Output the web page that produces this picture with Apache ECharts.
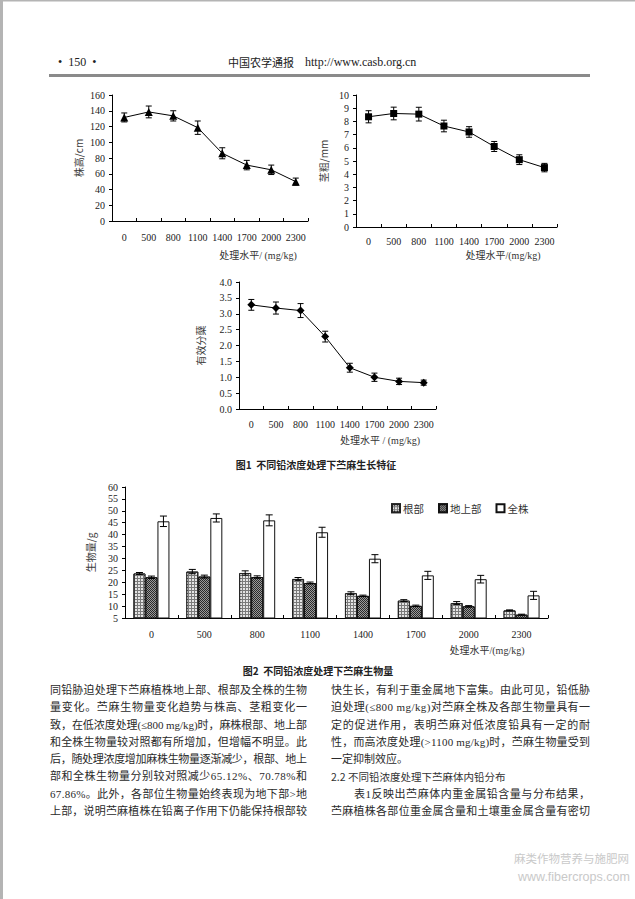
<!DOCTYPE html>
<html><head><meta charset="utf-8">
<script src="https://cdn.jsdelivr.net/npm/echarts@6/dist/echarts.min.js"></script>
<style>
html,body{margin:0;padding:0;background:#fff;}
#page{position:relative;width:635px;height:899px;overflow:hidden;background:#fff;}
#chart{position:absolute;left:0;top:0;width:635px;height:899px;}
.ln{position:absolute;display:inline-block;white-space:nowrap;font-family:"Liberation Serif","Noto Sans CJK SC",serif;font-size:11px;color:#2a2a2a;line-height:17px;height:17px;}
.hd{font-family:"Noto Sans CJK SC",sans-serif;font-size:10.5px;color:#333;}
.wm{position:absolute;white-space:nowrap;color:#c9c9c9;}
</style>
</head><body>
<div id="page">
<div id="chart"></div>
<div id="text"></div>
<div class="wm" style="left:514px;top:850px;font-family:'Noto Sans CJK SC';font-size:11.5px;line-height:16px;">麻类作物营养与施肥网</div>
<div class="wm" style="left:518px;top:869px;font-family:'Liberation Sans';font-size:12.5px;line-height:16px;">www.fibercrops.com</div>
</div>
<script>
// ---------- data ----------
const doses = ['0','500','800','1100','1400','1700','2000','2300'];
const plantHeight = [131.5,138.5,133.5,118.5,86,71,65,50];
const plantHeightErr = [5.7,7.5,6.5,8.5,7,6,6,4.5];
const stemDiam = [8.35,8.6,8.55,7.65,7.2,6.1,5.1,4.5];
const stemDiamErr = [0.46,0.48,0.52,0.44,0.4,0.38,0.37,0.32];
const tillers = [3.28,3.18,3.1,2.28,1.3,1.0,0.87,0.83];
const tillersErr = [0.17,0.19,0.22,0.17,0.14,0.13,0.1,0.08];
const rootMass = [23.7,24.5,23.9,21.4,15.4,12.3,11.3,8.2];
const rootErr = [0.4,0.9,0.9,0.6,0.6,0.4,0.6,0.2];
const shootMass = [22.1,22.4,22.2,19.7,14.3,10.1,9.9,6.4];
const shootErr = [0.5,0.6,0.5,0.4,0.3,0.3,0.3,0.2];
const wholeMass = [45.6,47.0,46.0,41.0,29.9,22.9,21.3,14.5];
const wholeErr = [2.2,1.7,2.3,2.1,1.7,1.7,1.6,1.7];
const legendNames = ['根部','地上部','全株'];

const leftLines = [
 '同铅胁迫处理下苎麻植株地上部、根部及全株的生物',
 '量变化。苎麻生物量变化趋势与株高、茎粗变化一',
 '致，在低浓度处理(≤800 mg/kg)时，麻株根部、地上部',
 '和全株生物量较对照都有所增加，但增幅不明显。此',
 '后，随处理浓度增加麻株生物量逐渐减少，根部、地上',
 '部和全株生物量分别较对照减少65.12%、70.78%和',
 '67.86%。此外，各部位生物量始终表现为地下部>地',
 '上部，说明苎麻植株在铅离子作用下仍能保持根部较'
];
const rightLines = [
 '快生长，有利于重金属地下富集。由此可见，铅低胁',
 '迫处理(≤800 mg/kg)对苎麻全株及各部生物量具有一',
 '定的促进作用，表明苎麻对低浓度铅具有一定的耐',
 '性，而高浓度处理(>1100 mg/kg)时，苎麻生物量受到',
 '一定抑制效应。',
 '2.2  不同铅浓度处理下苎麻体内铅分布',
 '表1反映出苎麻体内重金属铅含量与分布结果，',
 '苎麻植株各部位重金属含量和土壤重金属含量有密切'
];

// ---------- body text ----------
const tc = document.getElementById('text');
function addLine(txt, x, y, w, justify, cls) {
  const d = document.createElement('div');
  d.className = 'ln' + (cls ? ' ' + cls : '');
  d.textContent = txt;
  d.style.left = x + 'px';
  d.style.top = (y - 8.5) + 'px';
  tc.appendChild(d);
  if (justify) {
    const n = [...txt].length;
    const cw = d.getBoundingClientRect().width;
    d.style.letterSpacing = ((w - cw) / (n - 1)) + 'px';
  }
}
const lineY = k => 690.5 + 17.25 * k;
leftLines.forEach((t, k) => addLine(t, 50, lineY(k), 257, true));
rightLines.forEach((t, k) => {
  if (k === 4) addLine(t, 331, lineY(k), 0, false);
  else if (k === 5) addLine(t, 331, lineY(k), 0, false, 'hd');
  else if (k === 6) addLine(t, 354, lineY(k), 236, true);
  else addLine(t, 331, lineY(k), 259, true);
});

// ---------- chart ----------
const chart = echarts.init(document.getElementById('chart'), null, {renderer: 'svg', width: 635, height: 899});
const SERIF = 'Liberation Serif';
const CJK = 'Noto Sans CJK SC';

function xAx(gi, margin) {
  return {type: 'category', gridIndex: gi, data: doses, boundaryGap: true,
    axisLine: {lineStyle: {color: '#000', width: 1}},
    axisTick: {show: true, inside: true, length: 3, alignWithLabel: false, lineStyle: {color: '#000'}},
    axisLabel: {interval: 0, margin: margin, fontFamily: SERIF, fontSize: 10, color: '#222'},
    splitLine: {show: false}};
}
function yAx(gi, min, max, interval, name, gap, dec) {
  return {type: 'value', gridIndex: gi, min: min, max: max, interval: interval,
    name: name, nameLocation: 'middle', nameGap: gap, nameRotate: 90,
    nameTextStyle: {fontFamily: CJK, fontSize: 10, color: '#3a3a3a'},
    axisLine: {show: true, lineStyle: {color: '#000', width: 1}},
    axisTick: {show: true, length: 3, lineStyle: {color: '#000'}},
    axisLabel: {fontFamily: SERIF, fontSize: 10, color: '#222', margin: 7,
      formatter: v => dec ? v.toFixed(dec) : String(v)},
    splitLine: {show: false}};
}
function errSeries(gi, vals, errs, offset, cap, z) {
  return {type: 'custom', xAxisIndex: gi, yAxisIndex: gi, z: z, silent: true,
    encode: {x: 0, y: [1, 2]},
    data: vals.map((v, i) => [i, v - errs[i], v + errs[i]]),
    renderItem: function (params, api) {
      const i = api.value(0);
      const lo = api.coord([i, api.value(1)]);
      const hi = api.coord([i, api.value(2)]);
      const x = lo[0] + offset;
      const st = {stroke: '#000', lineWidth: 1};
      return {type: 'group', children: [
        {type: 'line', shape: {x1: x, y1: lo[1], x2: x, y2: hi[1]}, style: st},
        {type: 'line', shape: {x1: x - cap, y1: lo[1], x2: x + cap, y2: lo[1]}, style: st},
        {type: 'line', shape: {x1: x - cap, y1: hi[1], x2: x + cap, y2: hi[1]}, style: st}
      ]};
    }};
}
function lineSeries(gi, vals, symbol, size) {
  return {type: 'line', xAxisIndex: gi, yAxisIndex: gi, data: vals, symbol: symbol, symbolSize: size,
    z: 5, lineStyle: {color: '#000', width: 1}, itemStyle: {color: '#000'}, silent: true, animation: false};
}
function txt(text, x, y, font, size, weight, align, color) {
  return {type: 'text', x: x, y: y, silent: true,
    style: {text: text, fontFamily: font, fontSize: size, fontWeight: weight || 'normal',
      fill: color || '#333', align: align || 'center', verticalAlign: 'middle'}};
}

const option = {
  animation: false,
  backgroundColor: '#fff',
  grid: [
    {left: 112, top: 95, width: 196, height: 126},
    {left: 356, top: 95, width: 201, height: 132},
    {left: 239, top: 282, width: 197, height: 127},
    {left: 125, top: 487, width: 423, height: 131}
  ],
  xAxis: [xAx(0, 11), xAx(1, 9), xAx(2, 10), xAx(3, 11)],
  yAxis: [
    yAx(0, 0, 160, 20, '株高/cm', 29, 0),
    yAx(1, 0, 10, 1, '茎粗/mm', 28, 0),
    yAx(2, 0, 4, 0.5, '有效分蘖', 34, 1),
    yAx(3, 5, 60, 5, '生物量/g', 30, 0)
  ],
  legend: {data: legendNames, left: 386, top: 498, itemWidth: 8, itemHeight: 8, itemGap: 14,
    icon: 'rect', textStyle: {fontFamily: CJK, fontSize: 10.5, color: '#333', padding: [0, 0, 0, -2]}},
  series: [
    errSeries(0, plantHeight, plantHeightErr, 0, 3, 3),
    lineSeries(0, plantHeight, 'triangle', 8),
    errSeries(1, stemDiam, stemDiamErr, 0, 3, 3),
    lineSeries(1, stemDiam, 'rect', 7),
    errSeries(2, tillers, tillersErr, 0, 3, 3),
    lineSeries(2, tillers, 'diamond', 8),
    {name: '根部', type: 'bar', xAxisIndex: 3, yAxisIndex: 3, data: rootMass, barWidth: 12, barGap: '0%',
      itemStyle: {color: '#7a7a7a', borderColor: '#222', borderWidth: 1,
        decal: {symbol: 'rect', symbolSize: 1, color: '#e4e4e4', dashArrayX: [2, 1], dashArrayY: [2, 1], rotation: 0}}},
    {name: '地上部', type: 'bar', xAxisIndex: 3, yAxisIndex: 3, data: shootMass, barWidth: 12, barGap: '0%',
      itemStyle: {color: '#2a2a2a', borderColor: '#111', borderWidth: 1,
        decal: {symbol: 'rect', symbolSize: 1, color: '#9a9a9a', dashArrayX: [[1, 1], [0, 1, 1, 0]], dashArrayY: [1, 0], rotation: 0}}},
    {name: '全株', type: 'bar', xAxisIndex: 3, yAxisIndex: 3, data: wholeMass, barWidth: 12, barGap: '0%',
      itemStyle: {color: '#fff', borderColor: '#111', borderWidth: 1}},
    errSeries(3, rootMass, rootErr, -12, 3.5, 10),
    errSeries(3, shootMass, shootErr, 0, 3.5, 10),
    errSeries(3, wholeMass, wholeErr, 12, 3.5, 10)
  ],
  graphic: [
    {type: 'rect', shape: {x: 0, y: 0, width: 3, height: 899}, style: {fill: '#b4b4b4'}, silent: true},
    {type: 'rect', shape: {x: 0, y: 0, width: 635, height: 1.5}, style: {fill: '#b4b4b4'}, silent: true},
    {type: 'rect', shape: {x: 49, y: 74, width: 541, height: 3}, style: {fill: '#8a8a8a'}, silent: true},
    txt('•  150  •', 58, 62, SERIF, 12, 'normal', 'left', '#222'),
    txt('中国农学通报', 228, 62, CJK, 11, 'normal', 'left', '#222'),
    txt('http://www.casb.org.cn', 305, 62, SERIF, 12, 'normal', 'left', '#222'),
    txt('处理水平/ (mg/kg)', 258, 255, SERIF + ',' + CJK, 10, 'normal', 'center', '#333'),
    txt('处理水平/(mg/kg)', 503, 255, SERIF + ',' + CJK, 10, 'normal', 'center', '#333'),
    txt('处理水平 / (mg/kg)', 380, 440, SERIF + ',' + CJK, 10, 'normal', 'center', '#333'),
    txt('处理水平/(mg/kg)', 487, 650, SERIF + ',' + CJK, 10, 'normal', 'center', '#333'),
    txt('图1  不同铅浓度处理下苎麻生长特征', 316, 464, CJK, 10, 'bold', 'center', '#222'),
    txt('图2  不同铅浓度处理下苎麻生物量', 318, 670, CJK, 10, 'bold', 'center', '#222')
  ]
};
chart.setOption(option);
</script>
</body></html>
